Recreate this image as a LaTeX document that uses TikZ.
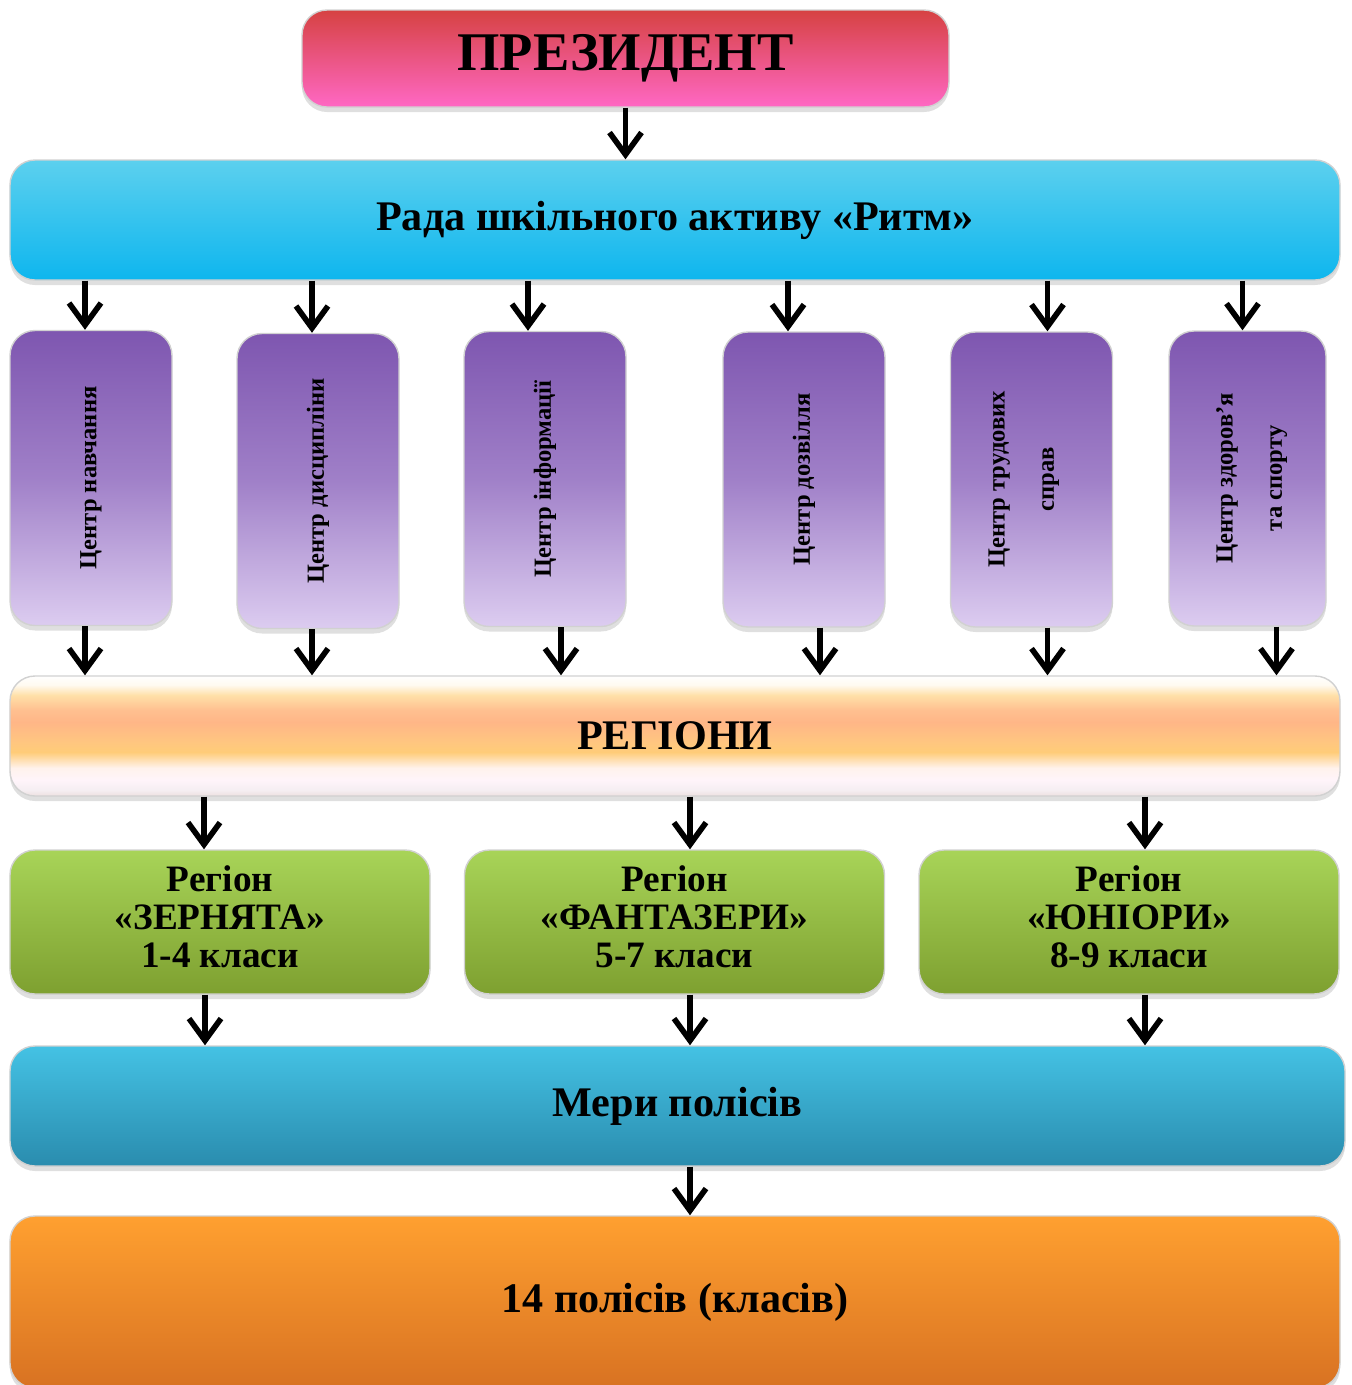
\documentclass[tikz,border=0pt]{standalone}
\usepackage{fontspec}
\setmainfont{Liberation Serif}
\usepackage{tikz}
\usetikzlibrary{arrows.meta,shadows}

\definecolor{presTop}{RGB}{214,66,66}
\definecolor{presBot}{RGB}{255,104,196}
\definecolor{radaTop}{RGB}{92,208,238}
\definecolor{radaBot}{RGB}{14,182,238}
\definecolor{centTop}{RGB}{126,86,176}
\definecolor{centMid}{RGB}{160,128,200}
\definecolor{centBot}{RGB}{220,204,240}
\definecolor{regTop}{RGB}{168,212,88}
\definecolor{regBot}{RGB}{126,160,48}
\definecolor{meryTop}{RGB}{68,194,228}
\definecolor{meryBot}{RGB}{42,140,174}
\definecolor{polTop}{RGB}{255,160,48}
\definecolor{polBot}{RGB}{216,114,34}

\pgfdeclareverticalshading{regionsShade}{100bp}{%
color(0bp)=(rgb,255:red,237;green,224;blue,224);
color(25bp)=(rgb,255:red,237;green,224;blue,224);
color(27.5bp)=(rgb,255:red,245;green,238;blue,242);
color(31.7bp)=(rgb,255:red,255;green,244;blue,250);
color(36.7bp)=(rgb,255:red,255;green,242;blue,236);
color(43.3bp)=(rgb,255:red,255;green,204;blue,120);
color(47.5bp)=(rgb,255:red,255;green,198;blue,128);
color(55.8bp)=(rgb,255:red,255;green,182;blue,135);
color(60.8bp)=(rgb,255:red,255;green,192;blue,144);
color(67bp)=(rgb,255:red,255;green,224;blue,168);
color(71.25bp)=(rgb,255:red,255;green,250;blue,240);
color(75bp)=(rgb,255:red,255;green,255;blue,255);
color(100bp)=(rgb,255:red,255;green,255;blue,255)}

\begin{document}
\begin{tikzpicture}[
	box/.style={rounded corners=0.25cm, draw=black!18, line width=0.4pt, align=center, inner sep=0pt,
		drop shadow={shadow xshift=0pt, shadow yshift=-0.05cm, opacity=0.25}},
	centre/.style={box, minimum width=1.62cm, minimum height=2.95cm, top color=centTop, bottom color=centBot, middle color=centMid,
		font=\bfseries\fontsize{7}{14}\selectfont},
	region/.style={box, minimum width=4.2cm, minimum height=1.44cm, top color=regTop, bottom color=regBot,
		font=\bfseries\fontsize{10.6}{10.8}\selectfont},
	wide/.style={box, minimum width=13.3cm, minimum height=1.2cm, font=\bfseries\fontsize{12}{15}\selectfont},
	arr/.style={-{Straight Barb[length=0.22cm,width=0.32cm]}, line width=1.6pt}
]
\useasboundingbox (0,0) rectangle (13.52,-13.85);

\node[box, minimum width=6.47cm, minimum height=0.97cm, top color=presTop, bottom color=presBot,
	font=\bfseries\fontsize{15.5}{17}\selectfont] (pres) at (6.255,-0.585) {ПРЕЗИДЕНТ};
\node[wide, top color=radaTop, bottom color=radaBot] (rada) at (6.75,-2.2) {Рада шкільного активу «Ритм»};

	\node[centre] (c1) at (0.91,-4.78) {\rotatebox{90}{Центр навчання}};
	\node[centre] (c2) at (3.18,-4.81) {\rotatebox{90}{Центр дисципліни}};
	\node[centre] (c3) at (5.45,-4.79) {\rotatebox{90}{Центр інформації}};
	\node[centre] (c4) at (8.04,-4.795) {\rotatebox{90}{Центр дозвілля}};
	\node[centre] (c5) at (10.315,-4.795) {\rotatebox{90}{\begin{tabular}{@{}c@{}}Центр трудових\\справ\end{tabular}}\hspace{0.24cm}};
	\node[centre, minimum width=1.57cm] (c6) at (12.475,-4.785) {\rotatebox{90}{\begin{tabular}{@{}c@{}}Центр здоров’я\\та спорту\end{tabular}}};

\node[wide, shading=regionsShade] (regions) at (6.75,-7.36) {РЕГІОНИ};

	\node[region] (g1) at (2.2,-9.22) {\raisebox{0.07cm}{\begin{tabular}{@{}c@{}}Регіон\\«ЗЕРНЯТА»\\1-4 класи\end{tabular}}};
	\node[region] (g2) at (6.745,-9.22) {\raisebox{0.07cm}{\begin{tabular}{@{}c@{}}Регіон\\«ФАНТАЗЕРИ»\\5-7 класи\end{tabular}}};
	\node[region] (g3) at (11.29,-9.22) {\raisebox{0.07cm}{\begin{tabular}{@{}c@{}}Регіон\\«ЮНІОРИ»\\8-9 класи\end{tabular}}};

\node[wide, minimum width=13.35cm, top color=meryTop, bottom color=meryBot] (mery) at (6.775,-11.06) {Мери полісів};
\node[wide, minimum height=1.72cm, top color=polTop, bottom color=polBot] (polis) at (6.75,-13.02) {14 полісів (класів)};

	\draw[arr] (pres) -- (pres |- rada.north);

	\draw[arr] ([xshift=-0.06cm]rada.south -| c1) -- ([xshift=-0.06cm]c1.north);
	\draw[arr] ([xshift=-0.06cm]rada.south -| c2) -- ([xshift=-0.06cm]c2.north);
	\draw[arr] ([xshift=-0.17cm]rada.south -| c3) -- ([xshift=-0.17cm]c3.north);
	\draw[arr] ([xshift=-0.16cm]rada.south -| c4) -- ([xshift=-0.16cm]c4.north);
	\draw[arr] ([xshift=0.16cm]rada.south -| c5) -- ([xshift=0.16cm]c5.north);
	\draw[arr] ([xshift=-0.05cm]rada.south -| c6) -- ([xshift=-0.05cm]c6.north);

	\draw[arr] ([xshift=-0.06cm]c1.south) -- ([xshift=-0.06cm]c1.south |- regions.north);
	\draw[arr] ([xshift=-0.06cm]c2.south) -- ([xshift=-0.06cm]c2.south |- regions.north);
	\draw[arr] ([xshift=0.16cm]c3.south) -- ([xshift=0.16cm]c3.south |- regions.north);
	\draw[arr] ([xshift=0.16cm]c4.south) -- ([xshift=0.16cm]c4.south |- regions.north);
	\draw[arr] ([xshift=0.16cm]c5.south) -- ([xshift=0.16cm]c5.south |- regions.north);
	\draw[arr] ([xshift=0.29cm]c6.south) -- ([xshift=0.29cm]c6.south |- regions.north);

	\draw[arr] ([xshift=-0.16cm]regions.south -| g1) -- ([xshift=-0.16cm]g1.north);
	\draw[arr] ([xshift=0.155cm]regions.south -| g2) -- ([xshift=0.155cm]g2.north);
	\draw[arr] ([xshift=0.16cm]regions.south -| g3) -- ([xshift=0.16cm]g3.north);

	\draw[arr] ([xshift=-0.15cm]g1.south) -- ([xshift=-0.15cm]g1.south |- mery.north);
	\draw[arr] ([xshift=0.155cm]g2.south) -- ([xshift=0.155cm]g2.south |- mery.north);
	\draw[arr] ([xshift=0.16cm]g3.south) -- ([xshift=0.16cm]g3.south |- mery.north);

	\draw[arr] ([xshift=0.125cm]mery.south) -- ([xshift=0.125cm]mery.south |- polis.north);
\end{tikzpicture}
\end{document}
